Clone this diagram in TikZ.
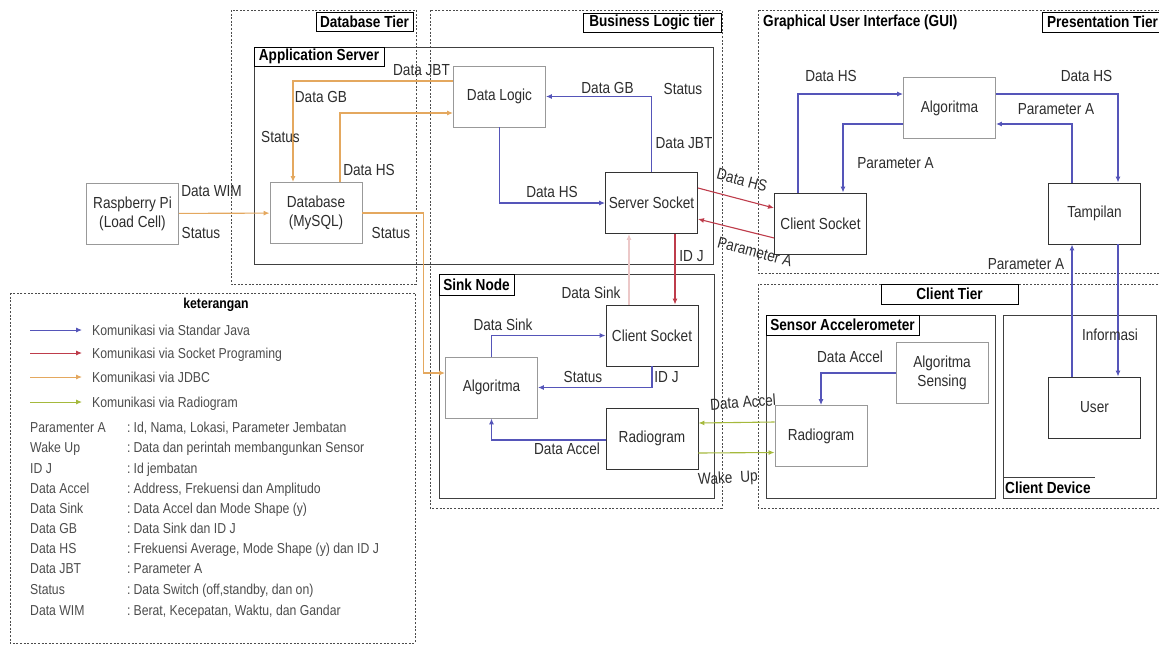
\documentclass[tikz,border=0pt]{standalone}
\usepackage{fontspec}
\setmainfont[FakeStretch=0.85]{Liberation Sans}
\usetikzlibrary{arrows.meta}
\definecolor{jawa}{RGB}{85,85,185}
\definecolor{soket}{RGB}{190,60,75}
\definecolor{jdbc}{RGB}{228,168,95}
\definecolor{radio}{RGB}{165,185,60}
\definecolor{pucat}{RGB}{236,200,200}
\definecolor{teks}{RGB}{45,45,45}
\begin{document}
\begin{tikzpicture}[x=1pt,y=-1pt,
    blok/.style={draw=black!80,line width=0.9pt,minimum width=92pt,minimum height=61pt,inner sep=0pt,align=center,text=teks,font=\fontsize{16}{19}\selectfont},
    blokpucat/.style={blok,draw=black!40},
    judul/.style={draw=black,line width=0.9pt,inner sep=0pt,font=\bfseries\fontsize{16}{19}\selectfont},
    lbl/.style={inner sep=1pt,text=teks,font=\fontsize{16}{19}\selectfont},
    ket/.style={inner sep=0pt,anchor=base west,text=black!70,font=\fontsize{14.4}{17}\selectfont},
    panah/.style={line width=1.1pt,-{Latex[length=6pt,width=5pt]}},
    biru/.style={panah,draw=jawa},
    merah/.style={panah,draw=soket},
    oranye/.style={panah,draw=jdbc},
    hijau/.style={panah,draw=radio},
    tier/.style={draw=black!70,line width=0.8pt,dash pattern=on 2pt off 1.6pt},
    wadah/.style={draw=black!75,line width=0.9pt}]
      \useasboundingbox (0,0) rectangle (1159,646);

      \draw[tier] (231,10) rectangle (416,284);
      \node[judul,minimum width=97pt,minimum height=19pt] (tjdb) at (364.5,21.5) {Database Tier};
      \draw[tier] (430,10) rectangle (722,508);
      \node[judul,minimum width=138pt,minimum height=19pt] (tjbl) at (652,22.5) {Business Logic tier};
      \draw[wadah] (254,47) rectangle (713,264);
      \node[judul,minimum width=130pt,minimum height=19pt] (tjapp) at (319,56.5) {Application Server};
      \draw[wadah] (439,274) rectangle (714,498);
      \node[judul,minimum width=75pt,minimum height=21pt] (tjsink) at (476.5,284.5) {Sink Node};
      \draw[tier] (758,10) rectangle (1175,273);
      \node[inner sep=0pt,anchor=west,font=\bfseries\fontsize{16}{19}\selectfont] (tjgui) at (763,22) {Graphical User Interface (GUI)};
      \node[judul,minimum width=121pt,minimum height=20pt] (tjpres) at (1102.5,22) {Presentation Tier};
      \draw[tier] (758,284) rectangle (1175,508);
      \node[judul,minimum width=137pt,minimum height=20pt] (tjclient) at (949.5,294) {Client Tier};
      \draw[wadah] (766,315) rectangle (995,498);
      \node[judul,minimum width=153pt,minimum height=20pt] (tjsensor) at (842.5,325) {Sensor Accelerometer};
      \draw[wadah] (1003,315) rectangle (1156,498);
      \draw[wadah] (1003,477) -- (1095,477);
      \node[inner sep=0pt,anchor=west,font=\bfseries\fontsize{16}{19}\selectfont] (tjdev) at (1005,488) {Client Device};

      \node[blokpucat] (rpi) at (132.5,213.5) {Raspberry Pi\\(Load Cell)};
      \node[blokpucat] (db) at (316,213) {Database\\(MySQL)};
      \node[blokpucat] (logic) at (499.5,96.5) {Data Logic};
      \node[blok] (srvsock) at (651.5,203) {Server Socket};
      \node[blok] (sinkcs) at (652,335.5) {Client Socket};
      \node[blokpucat] (sinkalg) at (491.5,387.5) {Algoritma};
      \node[blok] (sinkradio) at (652,438.5) {Radiogram};
      \node[blokpucat] (sensalg) at (942,373) {Algoritma\\Sensing};
      \node[blokpucat] (sensradio) at (821,436) {Radiogram};
      \node[blokpucat] (guialg) at (949.5,108) {Algoritma};
      \node[blok] (guics) at (820.5,223.5) {Client Socket};
      \node[blok] (tampil) at (1094.5,213.5) {Tampilan};
      \node[blok] (user) at (1094.5,407.5) {User};

      \draw[oranye] (rpi) -- (db);
      \node[lbl] (l1) at (211.5,191) {Data WIM};
      \node[lbl] (l2) at (201,233) {Status};
      \draw[oranye] ([yshift=15.5pt]logic.west) -| ([xshift=-23pt]db.north);
      \node[lbl] (l3) at (421.5,70) {Data JBT};
      \node[lbl] (l4) at (321,97) {Data GB};
      \node[lbl] (l5) at (280.5,137) {Status};
      \draw[oranye] ([xshift=24pt]db.north) |- ([yshift=-16.5pt]logic.west);
      \node[lbl] (l6) at (369,170) {Data HS};
      \draw[oranye] (db.east) -- ++(61,0) |- ([yshift=14.5pt]sinkalg.west);
      \node[lbl] (l7) at (391,233) {Status};

      \draw[biru] (logic.south) |- (srvsock.west);
      \node[lbl] (l8) at (552,192) {Data HS};
      \draw[biru] (srvsock.north) |- (logic.east);
      \node[lbl] (l9) at (607.5,88) {Data GB};
      \node[lbl] (l10) at (683,89) {Status};
      \node[lbl] (l11) at (684,143) {Data JBT};
      \draw[merah] ([xshift=23.5pt]srvsock.south) -- ([xshift=23pt]sinkcs.north);
      \node[lbl] (l12) at (691.5,256) {ID J};
      \draw[panah,draw=pucat] ([xshift=-23pt]sinkcs.north) -- ([xshift=-22.5pt]srvsock.south);
      \node[lbl] (l13) at (591,293) {Data Sink};
      \draw[merah] ([yshift=15pt]srvsock.east) -- ([yshift=15.5pt]guics.west);
      \node[lbl,rotate=-15] (l14) at (742,180) {Data HS};
      \draw[merah] ([yshift=-14.5pt]guics.west) -- ([yshift=-16pt]srvsock.east);
      \node[lbl,rotate=-15] (l15) at (755,252) {Parameter A};

      \draw[biru] (sinkalg.north) |- (sinkcs.west);
      \node[lbl] (l16) at (503,325) {Data Sink};
      \draw[biru] (sinkcs.south) |- (sinkalg.east);
      \node[lbl] (l17) at (583,377) {Status};
      \node[lbl] (l18) at (666.5,377) {ID J};
      \draw[biru] ([yshift=-1.5pt]sinkradio.west) -| (sinkalg.south);
      \node[lbl] (l19) at (567,449) {Data Accel};
      \draw[hijau] ([yshift=14pt]sensradio.west) -- ([yshift=15.5pt]sinkradio.east);
      \node[lbl,rotate=4] (l20) at (743,402) {Data Accel};
      \draw[hijau] ([yshift=-14.5pt]sinkradio.east) -- ([yshift=-16.5pt]sensradio.west);
      \node[lbl,rotate=3] (l21) at (728,479) {Wake\enspace Up};
      \draw[biru] (sensalg.west) -| (sensradio.north);
      \node[lbl] (l22) at (850,357) {Data Accel};

      \draw[biru] ([xshift=-22.5pt]guics.north) |- ([yshift=14pt]guialg.west);
      \node[lbl] (l23) at (831,76) {Data HS};
      \draw[biru] ([yshift=-16pt]guialg.west) -| ([xshift=22.5pt]guics.north);
      \node[lbl] (l24) at (895.5,163) {Parameter A};
      \draw[biru] ([yshift=14pt]guialg.east) -| ([xshift=23.5pt]tampil.north);
      \node[lbl] (l25) at (1086.5,76) {Data HS};
      \draw[biru] ([xshift=-22.5pt]tampil.north) |- ([yshift=-16pt]guialg.east);
      \node[lbl] (l26) at (1056,109) {Parameter A};
      \draw[biru] ([xshift=-22.5pt]user.north) -- ([xshift=-22.5pt]tampil.south);
      \node[lbl] (l27) at (1026,264) {Parameter A};
      \draw[biru] ([xshift=23.5pt]tampil.south) -- ([xshift=23.5pt]user.north);
      \node[lbl] (l28) at (1110,335) {Informasi};

      \draw[tier] (10,293) rectangle (415,643);
      \node[inner sep=0pt,font=\bfseries\fontsize{14.4}{17}\selectfont] (ket0) at (216,305) {keterangan};
      \node[ket] (k1) at (92,335) {Komunikasi via Standar Java};
      \draw[biru,line width=0.9pt] ([xshift=-62pt,yshift=5pt]k1.base west) -- ([xshift=-10pt,yshift=5pt]k1.base west);
      \node[ket] (k2) at (92,358) {Komunikasi via Socket Programing};
      \draw[merah,line width=0.9pt] ([xshift=-62pt,yshift=5pt]k2.base west) -- ([xshift=-10pt,yshift=5pt]k2.base west);
      \node[ket] (k3) at (92,382) {Komunikasi via JDBC};
      \draw[oranye,line width=0.9pt] ([xshift=-62pt,yshift=5pt]k3.base west) -- ([xshift=-10pt,yshift=5pt]k3.base west);
      \node[ket] (k4) at (92,407) {Komunikasi via Radiogram};
      \draw[hijau,line width=0.9pt] ([xshift=-62pt,yshift=5pt]k4.base west) -- ([xshift=-10pt,yshift=5pt]k4.base west);

      \node[ket] (d1) at (30,432) {Paramenter A};
      \node[ket] (e1) at (127,432) {:\kern3pt Id, Nama, Lokasi, Parameter Jembatan};
      \node[ket] (d2) at (30,452) {Wake Up};
      \node[ket] (e2) at (127,452) {:\kern3pt Data dan perintah membangunkan Sensor};
      \node[ket] (d3) at (30,473) {ID J};
      \node[ket] (e3) at (127,473) {:\kern3pt Id jembatan};
      \node[ket] (d4) at (30,493) {Data Accel};
      \node[ket] (e4) at (127,493) {:\kern3pt Address, Frekuensi dan Amplitudo};
      \node[ket] (d5) at (30,513) {Data Sink};
      \node[ket] (e5) at (127,513) {:\kern3pt Data Accel dan Mode Shape (y)};
      \node[ket] (d6) at (30,533) {Data GB};
      \node[ket] (e6) at (127,533) {:\kern3pt Data Sink dan ID J};
      \node[ket] (d7) at (30,553) {Data HS};
      \node[ket] (e7) at (127,553) {:\kern3pt Frekuensi Average, Mode Shape (y) dan ID J};
      \node[ket] (d8) at (30,573) {Data JBT};
      \node[ket] (e8) at (127,573) {:\kern3pt Parameter A};
      \node[ket] (d9) at (30,594) {Status};
      \node[ket] (e9) at (127,594) {:\kern3pt Data Switch (off,standby, dan on)};
      \node[ket] (d10) at (30,615) {Data WIM};
      \node[ket] (e10) at (127,615) {:\kern3pt Berat, Kecepatan, Waktu, dan Gandar};

      \end{tikzpicture}
\end{document}
